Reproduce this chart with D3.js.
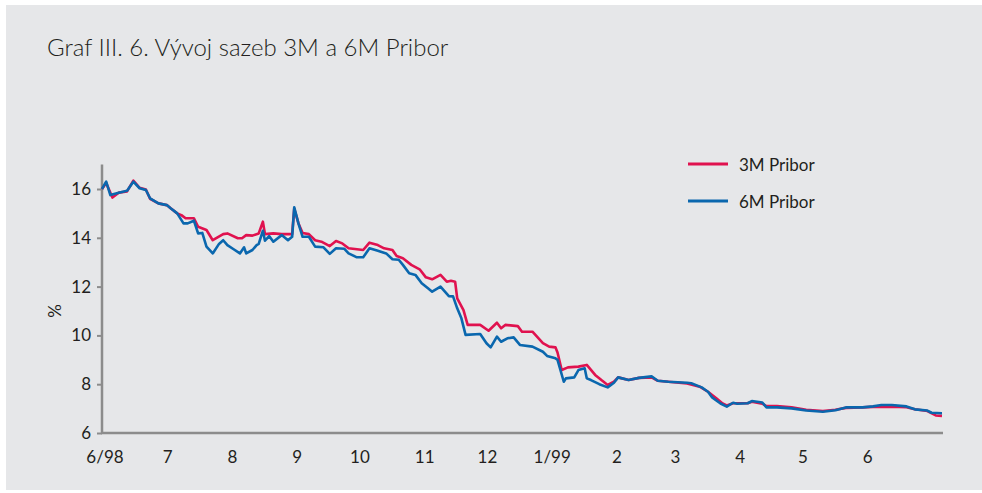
<!DOCTYPE html>
<html>
<head>
<meta charset="utf-8">
<script src="https://cdn.jsdelivr.net/npm/d3@7"></script>
<style>
  html, body { margin: 0; padding: 0; background: #fff; }
  svg { display: block; }
  text { font-family: Lato, "Open Sans", sans-serif; fill: #231f20; }
</style>
</head>
<body>
<div id="chart"></div>
<script>
// 3M Pribor
const dates3M = ["1998-06-01","1998-06-03","1998-06-06","1998-06-09","1998-06-13","1998-06-16","1998-06-19","1998-06-22","1998-06-24","1998-06-28",
  "1998-07-02","1998-07-04","1998-07-07","1998-07-09","1998-07-11","1998-07-15","1998-07-17","1998-07-21","1998-07-24","1998-07-29","1998-07-31",
  "1998-08-05","1998-08-07","1998-08-09","1998-08-12","1998-08-15","1998-08-17","1998-08-18","1998-08-22","1998-08-26","1998-08-31",
  "1998-09-01","1998-09-03","1998-09-05","1998-09-08","1998-09-11","1998-09-14","1998-09-18","1998-09-21","1998-09-24","1998-09-27",
  "1998-10-04","1998-10-07","1998-10-11","1998-10-14","1998-10-18","1998-10-20","1998-10-23","1998-10-27","1998-10-31",
  "1998-11-03","1998-11-06","1998-11-10","1998-11-13","1998-11-15","1998-11-17","1998-11-18","1998-11-21","1998-11-23","1998-11-29",
  "1998-12-03","1998-12-07","1998-12-09","1998-12-11","1998-12-17","1998-12-19","1998-12-24","1998-12-29",
  "1999-01-01","1999-01-04","1999-01-05","1999-01-07","1999-01-10","1999-01-15","1999-01-19","1999-01-23","1999-01-26","1999-01-29",
  "1999-02-01","1999-02-03","1999-02-08","1999-02-13","1999-02-19","1999-02-22","1999-02-27",
  "1999-03-08","1999-03-14","1999-03-18","1999-03-22","1999-03-25","1999-03-27","1999-03-30",
  "1999-04-06","1999-04-08","1999-04-13","1999-04-15","1999-04-20","1999-04-27",
  "1999-05-04","1999-05-12","1999-05-18","1999-05-23","1999-05-31",
  "1999-06-05","1999-06-14","1999-06-21","1999-06-25","1999-07-01","1999-07-05","1999-07-08"]
const values3M = [16.0,16.25,15.65,15.85,15.9,16.34,16.05,15.98,15.6,15.41,
  15.34,15.2,15.0,14.93,14.8,14.8,14.45,14.32,13.9,14.15,14.18,
  13.98,13.98,14.11,14.09,14.18,14.66,14.15,14.18,14.15,14.15,
  15.2,14.6,14.2,14.15,13.9,13.84,13.66,13.87,13.77,13.57,
  13.5,13.8,13.7,13.57,13.5,13.25,13.16,12.89,12.71,
  12.38,12.3,12.48,12.2,12.24,12.2,11.52,11.04,10.43,10.43,
  10.19,10.52,10.29,10.43,10.38,10.15,10.15,9.68,
  9.54,9.51,9.3,8.58,8.69,8.72,8.79,8.38,8.17,7.97,
  8.1,8.28,8.17,8.26,8.28,8.14,8.1,
  8.03,7.9,7.69,7.42,7.21,7.13,7.22,
  7.22,7.28,7.2,7.1,7.1,7.05,
  6.95,6.9,6.95,7.03,7.05,
  7.07,7.08,7.06,6.97,6.9,6.72,6.7]

// 6M Pribor
const dates6M = ["1998-06-01","1998-06-03","1998-06-05","1998-06-09","1998-06-13","1998-06-16","1998-06-19","1998-06-22","1998-06-24","1998-06-28",
  "1998-07-02","1998-07-04","1998-07-07","1998-07-10","1998-07-12","1998-07-15","1998-07-17","1998-07-19","1998-07-21","1998-07-24","1998-07-27","1998-07-29","1998-07-31",
  "1998-08-03","1998-08-06","1998-08-08","1998-08-09","1998-08-12","1998-08-14","1998-08-15","1998-08-17","1998-08-18","1998-08-20","1998-08-22","1998-08-26","1998-08-29","1998-08-31",
  "1998-09-01","1998-09-03","1998-09-05","1998-09-08","1998-09-11","1998-09-15","1998-09-18","1998-09-21","1998-09-25","1998-09-27",
  "1998-10-01","1998-10-04","1998-10-07","1998-10-11","1998-10-15","1998-10-18","1998-10-21","1998-10-23","1998-10-26","1998-10-29",
  "1998-11-01","1998-11-04","1998-11-06","1998-11-10","1998-11-14","1998-11-16","1998-11-18","1998-11-20","1998-11-22","1998-11-29",
  "1998-12-02","1998-12-04","1998-12-07","1998-12-09","1998-12-12","1998-12-15","1998-12-18","1998-12-24","1998-12-29","1998-12-31",
  "1999-01-04","1999-01-05","1999-01-08","1999-01-09","1999-01-13","1999-01-15","1999-01-18","1999-01-19","1999-01-21","1999-01-25","1999-01-29",
  "1999-02-01","1999-02-03","1999-02-08","1999-02-13","1999-02-19","1999-02-22","1999-02-27",
  "1999-03-08","1999-03-10","1999-03-15","1999-03-18","1999-03-20","1999-03-24","1999-03-27","1999-03-30",
  "1999-04-01","1999-04-06","1999-04-08","1999-04-13","1999-04-15","1999-04-20","1999-04-27",
  "1999-05-04","1999-05-12","1999-05-18","1999-05-23","1999-05-31",
  "1999-06-05","1999-06-09","1999-06-14","1999-06-21","1999-06-25","1999-07-01","1999-07-03","1999-07-08"]
const values6M = [16.0,16.3,15.75,15.85,15.93,16.3,16.03,15.96,15.62,15.41,
  15.34,15.2,15.0,14.59,14.59,14.7,14.18,14.2,13.64,13.36,13.75,13.9,13.7,
  13.53,13.36,13.61,13.36,13.5,13.7,13.75,14.29,13.88,14.07,13.84,14.11,13.9,14.04,
  15.25,14.59,14.04,14.04,13.64,13.61,13.34,13.57,13.55,13.36,
  13.2,13.2,13.57,13.47,13.36,13.12,13.1,12.89,12.55,12.48,
  12.14,11.93,11.79,12.0,11.61,11.6,11.11,10.7,10.02,10.06,
  9.68,9.51,9.95,9.74,9.88,9.92,9.61,9.54,9.33,9.16,
  9.06,9.0,8.1,8.24,8.28,8.58,8.65,8.24,8.17,8.0,7.87,
  8.06,8.28,8.17,8.26,8.32,8.14,8.1,
  8.06,8.04,7.87,7.69,7.46,7.21,7.08,7.24,
  7.2,7.22,7.31,7.25,7.05,7.05,7.01,
  6.92,6.87,6.93,7.05,7.05,
  7.09,7.15,7.15,7.09,6.97,6.92,6.83,6.81]

const yTicks = [6, 8, 10, 12, 14, 16]
const monthStarts = ["1998-06-01","1998-07-01","1998-08-01","1998-09-01","1998-10-01","1998-11-01","1998-12-01",
  "1999-01-01","1999-02-01","1999-03-01","1999-04-01","1999-05-01","1999-06-01"]
const monthLabels = ["6/98","7","8","9","10","11","12","1/99","2","3","4","5","6"]
const seriesNames = ["3M Pribor", "6M Pribor"]
const seriesColors = ["#e0124f", "#0a67ae"]

const width = 982
const height = 493
const parse = d3.timeParse("%Y-%m-%d")

const x = d3.scaleTime()
  .domain([parse("1998-06-01"), parse("1999-07-08")])
  .range([102, 942])
const y = d3.scaleLinear()
  .domain([6, 17])
  .range([433, 164.6])

const svg = d3.select("#chart")
  .append("svg")
  .attr("width", width)
  .attr("height", height)

// panel background
svg.append("rect")
  .attr("x", 6).attr("y", 5)
  .attr("width", width - 6).attr("height", 485)
  .style("fill", "#e6e7e9")

svg.append("text")
  .attr("x", 47).attr("y", 56)
  .style("font-size", "24px")
  .style("font-weight", 300)
  .text("Graf III. 6. Vývoj sazeb 3M a 6M Pribor")

// y axis
const yAxis = svg.append("g")
  .attr("transform", "translate(102,0)")
  .call(d3.axisLeft(y).tickValues(yTicks).tickSize(5).tickPadding(6))
yAxis.select(".domain").remove()
yAxis.selectAll(".tick line").style("stroke", "#8c8c8c").style("stroke-width", 2)
yAxis.selectAll(".tick text")
  .style("font-size", "17px")
  .style("font-family", "Lato, sans-serif")
  .style("fill", "#231f20")
svg.append("line")
  .attr("x1", 102).attr("x2", 102)
  .attr("y1", y(17)).attr("y2", y(6) + 1)
  .style("stroke", "#8c8c8c").style("stroke-width", 2.5)

svg.append("text")
  .attr("transform", "translate(61," + y(11) + ") rotate(-90)")
  .attr("text-anchor", "middle")
  .style("font-size", "17px")
  .text("%")

// x axis
svg.append("line")
  .attr("x1", 101).attr("x2", 943)
  .attr("y1", y(6)).attr("y2", y(6))
  .style("stroke", "#8c8c8c").style("stroke-width", 2.5)

svg.selectAll(".xlabel")
  .data(monthStarts)
  .enter().append("text")
  .attr("class", "xlabel")
  .attr("x", d => x(parse(d)) + 3)
  .attr("y", 463)
  .attr("text-anchor", "middle")
  .style("font-size", "17px")
  .text((d, i) => monthLabels[i])

// lines
const series = [
  dates3M.map((d, i) => ({ date: parse(d), value: values3M[i] })),
  dates6M.map((d, i) => ({ date: parse(d), value: values6M[i] })),
]
const line = d3.line()
  .x(d => x(d.date))
  .y(d => y(d.value))

svg.selectAll(".series")
  .data(series)
  .enter().append("path")
  .attr("class", "series")
  .attr("d", line)
  .style("fill", "none")
  .style("stroke", (d, i) => seriesColors[i])
  .style("stroke-width", 2.6)
  .style("stroke-linejoin", "round")

// legend
const legend = svg.selectAll(".legend")
  .data(seriesNames)
  .enter().append("g")
  .attr("class", "legend")
  .attr("transform", (d, i) => "translate(688," + (164 + i * 37) + ")")
legend.append("line")
  .attr("x1", 0).attr("x2", 40)
  .style("stroke", (d, i) => seriesColors[i])
  .style("stroke-width", 3)
legend.append("text")
  .attr("x", 51).attr("y", 7)
  .style("font-size", "17px")
  .text(d => d)
</script>
</body>
</html>
